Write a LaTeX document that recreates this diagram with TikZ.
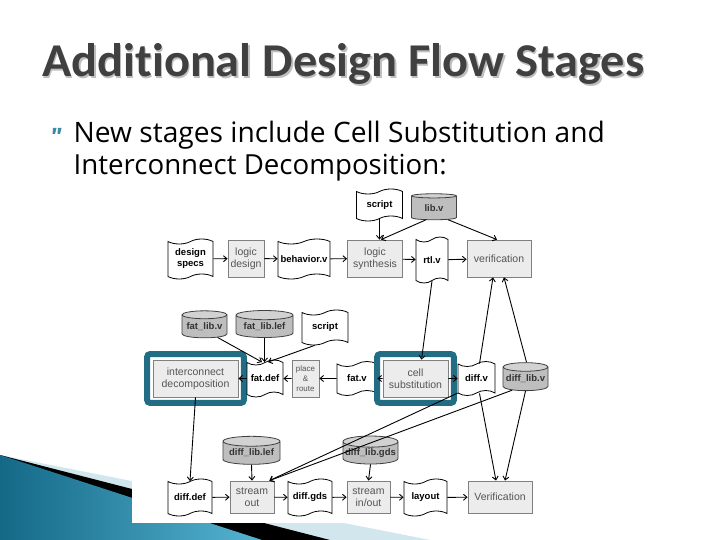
\documentclass[tikz,border=0pt]{standalone}
\usepackage{fontspec}
\setmainfont{Liberation Sans}
\newfontfamily\titlefont{Carlito}[Ligatures={NoCommon}]
\newfontfamily\bodyfont{Open Sans}
\usetikzlibrary{shapes.geometric,shapes.symbols,arrows.meta,fit,calc}
\definecolor{frameteal}{RGB}{34,108,132}
\definecolor{boxfill}{RGB}{236,236,236}
\definecolor{boxline}{RGB}{128,128,128}
\definecolor{boxtext}{RGB}{85,85,85}
\definecolor{cylfill}{RGB}{190,190,190}
\definecolor{cylend}{RGB}{210,210,210}
\definecolor{titlegray}{RGB}{64,64,64}
\definecolor{decodark}{RGB}{20,105,135}
\definecolor{decolight}{RGB}{85,180,210}
\definecolor{decopale}{RGB}{210,230,238}
\definecolor{bulletteal}{RGB}{60,140,165}
\tikzset{
  procbox/.style={draw=boxline, fill=boxfill, line width=0.8pt, text=boxtext,
    font=\fontsize{10.5}{12}\selectfont, align=center, inner sep=0pt},
  docshape/.style={shape=tape, draw=black, fill=white, line width=0.8pt,
    font=\fontsize{9.5}{11}\selectfont\bfseries, align=center, inner sep=0pt,
    tape bend top=in and out, tape bend bottom=in and out, tape bend height=5pt},
  cyl/.style={shape=cylinder, shape border rotate=90, aspect=0.22, draw=black!75,
    cylinder uses custom fill, cylinder body fill=cylfill, cylinder end fill=cylend,
    line width=0.8pt, font=\fontsize{9.5}{10}\selectfont\bfseries, text=black!80, inner sep=0pt},
  hlframe/.style={draw=frameteal, line width=6pt, rounded corners=3pt, inner sep=5.5pt},
  conn/.style={draw=black, line width=0.9pt, -{Straight Barb[length=3.5pt,width=6pt]}}
}
\begin{document}
\begin{tikzpicture}[x=1pt,y=-1pt]
\useasboundingbox (0,0) rectangle (720,540);
\fill[white] (0,0) rectangle (720,540);
% decoration
\fill[decopale] (0,455) -- (430,540) -- (0,540) -- cycle;
\fill[black] (0,455) -- (330,540) -- (0,540) -- cycle;
\shade[left color=decodark, right color=decolight] (0,455) -- (262,540) -- (0,540) -- cycle;
\fill[white] (132,186) rectangle (560,523);
% title
\node[anchor=base west, inner sep=0pt, text=black!25] (titleshadow) at (43.5,78.5)
  {\resizebox{602pt}{33pt}{\titlefont\bfseries Additional Design Flow Stages}};
\node[anchor=base west, inner sep=0pt, text=titlegray] (title) at (42,77)
  {\resizebox{602pt}{33pt}{\titlefont\bfseries Additional Design Flow Stages}};
% bullet
\fill[bulletteal] (53,128) -- (56.5,128) -- (55,134) -- (52.5,134) -- cycle;
\fill[bulletteal] (58,128) -- (61.5,128) -- (60,134) -- (57.5,134) -- cycle;
\node[anchor=base west, inner sep=0pt] (line1) at (73.5,143)
  {\resizebox{531pt}{!}{\bodyfont\fontsize{24}{28}\selectfont New stages include Cell Substitution and}};
\node[anchor=base west, inner sep=0pt] (line2) at (73.5,175)
  {\resizebox{373pt}{!}{\bodyfont\fontsize{24}{28}\selectfont Interconnect Decomposition:}};
% top row
\node[docshape, minimum width=45pt, minimum height=40pt] (specs) at (190.5,259) {design\\specs};
\node[procbox, minimum width=36pt, minimum height=37pt] (logicdes) at (246,258.5) {logic\\design};
\node[docshape, minimum width=52pt, minimum height=40pt] (behav) at (304,259) {behavior.v};
\node[procbox, minimum width=55pt, minimum height=37pt] (logsyn) at (375,258.5) {logic\\synthesis};
\node[docshape, minimum width=32pt, minimum height=46pt] (rtl) at (432,260) {rtl.v};
\node[procbox, minimum width=64pt, minimum height=37pt] (verif) at (499,258.5) {verification};
\node[docshape, minimum width=46pt, minimum height=32pt] (scriptA) at (379.5,205) {script};
\node[cyl, minimum width=45pt, minimum height=26pt] (libv) at (434,208) {lib.v};
% middle row
\node[procbox, minimum width=85pt, minimum height=37pt] (icd) at (195.5,378.5) {interconnect\\decomposition};
\node[hlframe, fit=(icd)] (icdframe) {};
\node[docshape, minimum width=36pt, minimum height=37pt] (fatdef) at (265,378.5) {fat.def};
\node[procbox, minimum width=27pt, minimum height=37pt, font=\fontsize{8}{10}\selectfont] (pr) at (305.5,378.5) {place\\\&\\route};
\node[docshape, minimum width=40pt, minimum height=34pt] (fatv) at (357,378.5) {fat.v};
\node[procbox, minimum width=65pt, minimum height=37pt] (cellsub) at (415.5,378.5) {cell\\substitution};
\node[hlframe, fit=(cellsub)] (cellframe) {};
\node[docshape, minimum width=37pt, minimum height=34pt] (diffv) at (476.5,378.5) {diff.v};
\node[cyl, minimum width=45pt, minimum height=28pt] (difflibv) at (525.5,379) {diff\_lib.v};
\node[cyl, minimum width=45pt, minimum height=27pt] (fatlibv) at (204.5,326.5) {fat\_lib.v};
\node[cyl, minimum width=57pt, minimum height=27pt] (fatliblef) at (264.5,326.5) {fat\_lib.lef};
\node[docshape, minimum width=46pt, minimum height=35pt] (scriptB) at (325,327.5) {script};
% bottom row
\node[docshape, minimum width=44pt, minimum height=37pt] (diffdef) at (190,497.5) {diff.def};
\node[procbox, minimum width=44pt, minimum height=32pt] (streamout) at (252,497) {stream\\out};
\node[docshape, minimum width=44pt, minimum height=37pt] (diffgds) at (310,497.5) {diff.gds};
\node[procbox, minimum width=43pt, minimum height=32pt] (streaminout) at (368.5,497) {stream\\in/out};
\node[docshape, minimum width=43pt, minimum height=37pt] (layout) at (425.5,497.5) {layout};
\node[procbox, minimum width=64pt, minimum height=32pt] (verifB) at (500,497) {Verification};
\node[cyl, minimum width=57pt, minimum height=28pt] (liblef) at (251.5,453) {diff\_lib.lef};
\node[cyl, minimum width=55pt, minimum height=28pt] (libgds) at (370.5,453) {diff\_lib.gds};
% connectors top
\draw[conn] (specs) -- (logicdes);
\draw[conn] (logicdes) -- (behav);
\draw[conn] (behav) -- (logsyn);
\draw[conn] (logsyn) -- (rtl);
\draw[conn] (rtl) -- (verif);
\draw[conn] (scriptA.south) -- (scriptA.south |- logsyn.north);
\draw[conn] (libv.235) -- ($(logsyn.north)+(6,0)$);
\draw[conn] (libv.-40) -- ($(verif.north)+(-2,0)$);
% connectors middle
\draw[conn] (rtl.south) -- ($(cellsub.north)+(6,0)$);
\draw[conn] (cellsub) -- (diffv);
\draw[conn] (cellsub) -- (fatv);
\draw[conn] (fatv) -- (pr);
\draw[conn] (pr) -- (fatdef);
\draw[conn] (fatdef) -- (icd);
\draw[conn] (fatlibv.-40) -- ($(fatdef.north)+(-3,0)$);
\draw[conn] (fatliblef.270) -- (fatliblef.270 |- fatdef.north);
\draw[conn] (scriptB.-120) -- ($(fatdef.north)+(3,0)$);
\draw[conn] (icd.south) -- (diffdef.north);
\draw[conn] ($(diffv.north)+(3,0)$) -- ($(verif.south)+(-6,0)$);
\draw[conn] ($(difflibv.north)+(1,0)$) -- ($(verif.south)+(5,0)$);
\draw[conn] ($(diffv.south)+(3,0)$) -- ($(verifB.north)+(-4,0)$);
\draw[conn] (difflibv.south) -- ($(verifB.north)+(5,0)$);
\draw[conn] (diffv.south west) -- ($(streamout.north east)+(-5,0)$);
\draw[conn] (difflibv.220) -- ($(streamout.north east)+(-5,0)$);
% connectors bottom
\draw[conn] (diffdef) -- (streamout);
\draw[conn] (streamout) -- (diffgds);
\draw[conn] (diffgds) -- (streaminout);
\draw[conn] (streaminout) -- (layout);
\draw[conn] (layout) -- (verifB);
\draw[conn] (liblef.south) -- (streamout.north);
\draw[conn] (libgds.south) -- (streaminout.north);
\end{tikzpicture}
\end{document}
